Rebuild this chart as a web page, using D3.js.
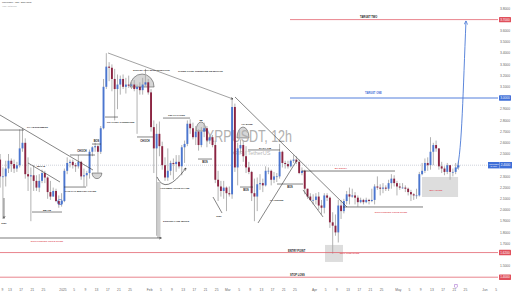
<!DOCTYPE html>
<html><head><meta charset="utf-8">
<script src="https://cdn.jsdelivr.net/npm/d3@7"></script>
<style>html,body{margin:0;padding:0;background:#fff;overflow:hidden}svg{display:block;font-family:"Liberation Sans",Arial,sans-serif}</style>
</head><body><svg id="c" width="512" height="297"></svg>
<script>
// ---------- DATA (daily candles, XRPUSDT) ----------
const startDay = -23; // 2024-12-09 relative to 2025-01-01
const firstOpen = 2.45;
const closes = [
 2.30,2.30,2.37,2.44,2.41,2.37,2.40,2.55,2.60,2.32,2.30,2.31,2.26,2.20,2.26,2.33,2.29,2.16,2.12,2.17,2.08,2.05,2.08,
 2.35,2.42,2.43,2.40,2.39,2.43,2.30,2.31,2.33,2.52,2.56,2.57,2.52,2.73,3.10,3.28,3.27,3.17,3.08,3.12,3.17,3.10,3.12,3.11,3.12,3.08,3.10,3.07,3.12,3.14,3.05,
 2.74,2.55,2.68,2.57,2.40,2.29,2.35,2.42,2.41,2.43,2.39,2.56,2.59,2.77,2.73,2.65,2.70,2.58,2.70,2.73,2.62,2.65,2.58,2.27,2.21,2.17,2.20,2.15,
 2.14,2.92,2.38,2.55,2.58,2.48,2.38,2.34,2.15,2.12,2.23,2.24,2.22,2.35,2.35,2.27,2.30,2.30,2.52,2.42,2.41,2.39,2.44,2.45,2.43,2.33,2.35,2.19,2.12,2.09,2.09,
 2.12,2.04,2.02,2.13,2.11,1.89,1.86,1.80,2.04,1.99,2.08,2.14,2.12,2.13,2.11,2.07,2.09,2.07,2.09,2.08,2.09,2.21,2.20,2.19,2.20,2.19,2.24,2.28,2.24,2.21,
 2.20,2.20,2.19,2.16,2.14,2.13,2.13,2.32,2.35,2.42,2.40,2.52,2.58,2.55,2.39,2.37,2.34,2.40,2.34,2.34,2.38,2.40];
const highs = [
 2.50,2.38,2.44,2.50,2.46,2.45,2.43,2.72,2.73,2.64,2.47,2.38,2.40,2.31,2.32,2.36,2.35,2.30,2.26,2.20,2.19,2.13,2.15,
 2.37,2.47,2.45,2.45,2.42,2.49,2.44,2.37,2.35,2.54,2.57,2.60,2.58,2.75,3.17,3.40,3.32,3.30,3.26,3.21,3.20,3.21,3.18,3.20,3.16,3.16,3.12,3.14,3.18,3.26,3.17,
 3.08,2.80,2.77,2.79,2.61,2.47,2.55,2.44,2.46,2.49,2.49,2.58,2.62,2.80,2.81,2.78,2.75,2.72,2.74,2.78,2.75,2.67,2.67,2.62,2.35,2.26,2.26,2.21,
 2.21,3.00,2.95,2.60,2.63,2.62,2.57,2.43,2.35,2.28,2.29,2.32,2.28,2.39,2.38,2.36,2.34,2.33,2.59,2.53,2.44,2.44,2.45,2.49,2.48,2.45,2.38,2.36,2.19,2.15,2.14,
 2.15,2.16,2.09,2.15,2.15,2.12,1.98,1.96,2.09,2.09,2.10,2.17,2.20,2.19,2.16,2.13,2.11,2.10,2.11,2.10,2.19,2.23,2.30,2.23,2.24,2.22,2.27,2.32,2.31,2.26,
 2.24,2.24,2.22,2.20,2.18,2.15,2.19,2.34,2.42,2.46,2.47,2.65,2.60,2.62,2.55,2.43,2.39,2.42,2.40,2.37,2.42,2.44];
const lows = [
 2.20,1.92,2.21,2.33,2.34,2.33,2.34,2.38,2.52,2.28,2.17,1.90,2.17,2.17,2.16,2.24,2.24,2.10,2.09,2.12,2.07,2.02,2.03,
 2.07,2.32,2.38,2.37,2.34,2.37,2.27,2.21,2.21,2.28,2.48,2.52,2.33,2.50,2.72,3.08,3.15,3.06,2.80,2.90,3.03,3.08,3.04,3.09,3.08,3.06,2.68,3.03,3.03,3.10,3.03,
 2.70,2.33,1.77,2.48,2.36,2.26,2.26,2.31,2.27,2.34,2.37,2.31,2.42,2.57,2.68,2.63,2.58,2.53,2.56,2.65,2.56,2.59,2.56,2.24,2.08,2.12,2.10,1.99,
 2.12,2.10,2.34,2.22,2.51,2.43,2.33,2.32,2.08,1.90,1.99,2.18,2.16,2.21,2.32,2.22,2.24,2.25,2.28,2.38,2.37,2.37,2.38,2.42,2.41,2.32,2.31,2.14,2.10,2.08,2.05,
 2.05,2.00,1.96,1.97,2.08,1.84,1.61,1.77,1.71,1.92,1.97,2.05,2.05,2.11,2.05,2.03,2.06,2.05,2.06,2.05,2.07,2.05,2.18,2.13,2.15,2.17,2.17,2.19,2.21,2.13,
 2.18,2.19,2.16,2.13,2.08,2.09,2.10,2.12,2.31,2.33,2.35,2.36,2.40,2.52,2.36,2.33,2.31,2.32,2.27,2.30,2.32,2.36];

const priceTicks = [3.8,3.7,3.6,3.5,3.4,3.3,3.2,3.1,3.0,2.9,2.8,2.7,2.6,2.5,2.4,2.3,2.2,2.1,2.0,1.9,1.8,1.7,1.6,1.5,1.4];
const timeTickDates = ["2024-12-09","2024-12-13","2024-12-17","2024-12-21","2024-12-25",
 "2025-01-01","2025-01-05","2025-01-09","2025-01-13","2025-01-17","2025-01-21","2025-01-25",
 "2025-02-01","2025-02-05","2025-02-09","2025-02-13","2025-02-17","2025-02-21","2025-02-25",
 "2025-03-01","2025-03-05","2025-03-09","2025-03-13","2025-03-17","2025-03-21","2025-03-25",
 "2025-04-01","2025-04-05","2025-04-09","2025-04-13","2025-04-17","2025-04-21","2025-04-25",
 "2025-05-01","2025-05-05","2025-05-09","2025-05-13","2025-05-17","2025-05-21","2025-05-25",
 "2025-06-01","2025-06-05"];
const timeTickLabels = ["9","13","17","21","25",
 "2025","5","9","13","17","21","25",
 "Feb","5","9","13","17","21","25",
 "Mar","5","9","13","17","21","25",
 "Apr","5","9","13","17","21","25",
 "May","5","9","13","17","21","25",
 "Jun","5"];
const levelNames = ["TARGET TWO","TARGET ONE","ENTRY POINT","STOP LOSS"];
const levelValues = [3.70, 3.00, 1.62, 1.40];
const levelColors = ["#e0505c","#3f6fd8","#e0505c","#e0505c"];

// ---------- SCALES ----------
const svg = d3.select("#c");
const plotR = 498, plotB = 283;
const x = d3.scaleUtc().domain([new Date(Date.UTC(2025,0,1)), new Date(Date.UTC(2025,5,1))]).range([63,485]);
const y = d3.scaleLinear().domain([3.0,1.4]).range([98,277.2]);
const D = d => new Date(Date.UTC(2025,0,1) + d*864e5);
const X = d => x(D(d));

svg.append("rect").attr("width",512).attr("height",297).attr("fill","#fff");
const defs = svg.append("defs");
defs.append("clipPath").attr("id","pc").append("rect").attr("width",plotR).attr("height",plotB);
function mk(id,color){
  defs.append("marker").attr("id",id).attr("viewBox","0 0 10 10").attr("refX",9).attr("refY",5)
   .attr("markerWidth",5).attr("markerHeight",5).attr("orient","auto-start-reverse")
   .append("path").attr("d","M1,1 L9,5 L1,9").attr("fill","none").attr("stroke",color).attr("stroke-width",1.6);
}
mk("ab","#222"); mk("abl","#4a78d6");

const plot = svg.append("g").attr("clip-path","url(#pc)");

function seg(d1,v1,d2,v2,color="#2a2a2a",w=0.6,marker=null){
  const l = plot.append("line").attr("x1",X(d1)).attr("y1",y(v1)).attr("x2",X(d2)).attr("y2",y(v2))
    .attr("stroke",color).attr("stroke-width",w);
  if(marker) l.attr("marker-end",`url(#${marker})`);
  return l;
}
function lbl(d,v,t,anchor="middle",color="#222",size=2.7,weight=700){
  return plot.append("text").attr("x",X(d)).attr("y",y(v)).attr("text-anchor",anchor)
    .attr("font-size",size).attr("font-weight",weight).attr("fill",color).text(t);
}
function box(d1,d2,v1,v2,fill="#d6d6d6",op=0.85){
  plot.append("rect").attr("x",X(d1)).attr("width",X(d2)-X(d1)).attr("y",y(v1)).attr("height",y(v2)-y(v1))
    .attr("fill",fill).attr("opacity",op);
}
function dome(d1,d2,vBase,vTop,up=true){
  const xl=X(d1), xr=X(d2), yb=y(vBase), rx=(xr-xl)/2, ry=Math.abs(y(vTop)-yb);
  plot.append("path").attr("d",`M${xl},${yb} A${rx},${ry} 0 0 ${up?1:0} ${xr},${yb} Z`)
    .attr("fill","#cfcfcf").attr("fill-opacity",0.85).attr("stroke","#3a3a3a").attr("stroke-width",0.5);
}

// background zones
box(33.64,34.89,2.25,1.75,"#c9c9c9",0.9);
box(93.75,100.19,1.688,1.536,"#d9d9d9",0.9);
box(128.46,141.35,2.295,2.116,"#d9d9d9",0.9);

// current price line
const lastPrice = closes[closes.length-1];
plot.append("line").attr("x1",0).attr("x2",plotR).attr("y1",y(lastPrice)).attr("y2",y(lastPrice))
  .attr("stroke","#9aa3b5").attr("stroke-width",0.5).attr("stroke-dasharray","1,1");

dome(24.0,32.6,3.098,3.214,true);
dome(47.59,51.17,2.705,2.786,true);
dome(62.26,66.56,2.643,2.741,true);
dome(10.4,13.9,2.33,2.28,false);

// watermark
plot.append("text").attr("x",206).attr("y",141.5).attr("font-size",17).attr("fill","#b0b0b0")
  .attr("textLength",86).attr("lengthAdjust","spacingAndGlyphs").text("XRPUSDT, 12h");
plot.append("text").attr("x",251).attr("y",155).attr("text-anchor","middle").attr("font-size",5.5).attr("fill","#b8b8b8")
  .text("XRP / TetherUS");

// candles
const candles = closes.map((c,i)=>({d:startDay+i+0.5,o:i?closes[i-1]:firstOpen,h:highs[i],l:lows[i],c}));
const cg = plot.append("g");
cg.selectAll("line").data(candles).join("line")
  .attr("x1",d=>X(d.d)).attr("x2",d=>X(d.d)).attr("y1",d=>y(d.h)).attr("y2",d=>y(d.l))
  .attr("stroke","#a9a9a9").attr("stroke-width",0.9);
cg.selectAll("rect").data(candles).join("rect")
  .attr("x",d=>X(d.d)-0.95).attr("width",1.9)
  .attr("y",d=>y(Math.max(d.o,d.c))).attr("height",d=>Math.max(0.7,Math.abs(y(d.o)-y(d.c))))
  .attr("fill",d=>d.c>=d.o?"#4b76d0":"#8c2442");

// level lines
levelValues.forEach((v,i)=>{
  const from = i<2 ? 81.23 : -30;
  plot.append("line").attr("x1",X(from)).attr("x2",plotR).attr("y1",y(v)).attr("y2",y(v))
    .attr("stroke",levelColors[i]).attr("stroke-width",i===1?0.9:0.7);
});
lbl(106.28,3.71,levelNames[0],"start","#222",2.6);
lbl(108.06,3.04,levelNames[1],"start","#3f6fd8",2.6);
lbl(80.51,1.629,levelNames[2],"start","#222",2.6);
lbl(81.23,1.411,levelNames[3],"start","#222",2.6);
lbl(102.5,1.603,"SELL SIDE ZONE","middle","#e0505c",2.4);

// annotations
seg(16.10,3.402,60.83,2.991,"#555",0.55,"ab");
lbl(41.15,3.236,"THREE POINT TRENDLINE REJECTION","start","#222",2.4);
seg(61.55,3.009,101.62,2.027,"#333",0.6);
lbl(25.05,3.241,"STRONG HIGH WICK REJECTION","start","#222",2.3);
seg(-22.54,2.848,10.73,2.357,"#333",0.6);
seg(-22.54,2.714,-13.96,2.714,"#333",0.6);
lbl(-12.88,2.732,"LH ADJUSTMENT","start","#222",2.5);
seg(-12.52,2.420,-1.07,2.250,"#333",0.6);
lbl(-7.87,2.384,"MTC B","middle","#222",2.5);
seg(2.50,2.491,11.45,2.491,"#333",0.6);
lbl(6.80,2.514,"CHOCH","middle","#222",2.6);
seg(10.38,2.589,13.60,2.589,"#333",0.6);
lbl(11.99,2.603,"BOS","middle","#222",2.6);
seg(0.36,2.205,8.23,2.205,"#333",0.6);
lbl(0.72,2.165,"FAIR GAP BULLISH FILLED","start","#222",2.4);
seg(-11.09,1.982,-0.36,1.982,"#333",0.6);
lbl(-5.73,1.991,"BB-OB","middle","#222",2.4);
plot.append("circle").attr("cx",X(-1.07)).attr("cy",y(2.071)).attr("r",2.6).attr("fill","none").attr("stroke","#4b76d0").attr("stroke-width",0.7);
seg(-21.11,2.107,-21.11,1.925,"#333",0.6,"ab");
lbl(-21.11,1.875,"SWL","middle","#222",2.4);
seg(-22.54,1.750,35.2,1.750,"#222",0.6,"ab");
lbl(-5.73,1.714,"DISCOUNTED PRICE ZONE","middle","#e0505c",2.5);
lbl(35.78,1.893,"STRONG LOW WICKS","start","#222",2.5);
plot.append("path").attr("d",`M${X(33.64)},${y(2.295)} Q${X(36.68)},${y(2.125)} ${X(44.01)},${y(2.375)}`)
  .attr("fill","none").attr("stroke","#222").attr("stroke-width",0.6).attr("marker-end","url(#ab)");
lbl(34.71,2.188,"ACCUMULATION PHASE","start","#222",2.5);
seg(15.03,2.830,19.68,2.830,"#333",0.6);
lbl(15.74,2.781,"PIP POINT CONNECTED","start","#222",2.4);
seg(26.48,2.652,32.20,2.652,"#333",0.6);
lbl(29.34,2.603,"CHOCH","middle","#222",2.6);
seg(35.78,2.821,45.45,2.821,"#333",0.6);
lbl(40.61,2.835,"1ST LH POINT","middle","#222",2.5);
lbl(49.38,2.799,"2B","middle","#222",2.5);
seg(48.31,2.455,53.32,2.455,"#333",0.6);
lbl(50.81,2.420,"BOS","middle","#222",2.6);
lbl(65.84,2.759,"HH ZONE","middle","#222",2.5);
seg(66.20,2.536,77.65,2.536,"#333",0.6);
lbl(72.28,2.549,"DAILY FIB","middle","#222",2.5);
seg(63.34,2.205,67.99,2.205,"#333",0.6);
lbl(65.48,2.170,"BOS","middle","#222",2.6);
seg(76.58,2.232,85.88,2.232,"#333",0.6);
lbl(81.23,2.192,"BOS","middle","#222",2.6);
seg(69.78,1.884,83.73,2.446,"#333",0.6);
lbl(74.07,2.076,"LL HUNTED","start","#222",2.4);
seg(53.67,2.116,56.90,1.973,"#333",0.6);
lbl(55.82,1.938,"SWL","middle","#222",2.4);
seg(85.88,2.179,93.04,1.938,"#333",0.6);
seg(85.52,2.348,118.80,2.348,"#222",0.6);
lbl(99.48,2.362,"BT ENTRY","middle","#e0505c",2.5);
seg(100.19,2.027,128.82,2.027,"#222",0.6);
lbl(117.37,1.969,"DISCOUNTED PRICE ZONE","middle","#e0505c",2.5);
lbl(133.47,2.174,"BUY ZONE","middle","#e0505c",2.5);

// projection
plot.append("path")
  .attr("d",`M${X(140.98)},${y(2.366)} C${X(142.78)},${y(2.536)} ${X(143.13)},${y(3.071)} ${X(144.2)},${y(3.688)}`)
  .attr("fill","none").attr("stroke","#4a78d6").attr("stroke-width",0.9).attr("marker-end","url(#abl)");

// top-left legend
svg.append("text").attr("x",2).attr("y",2.8).attr("font-size",2.3).attr("font-weight",700).attr("fill","#666").text("XRPUSDT · 12h · BINANCE");
svg.append("text").attr("x",2).attr("y",6.6).attr("font-size",2.1).attr("fill","#999").text("XRP / TetherUS");

// price axis (ticks hidden where a coloured label covers them, as in the reference)
const lastPriceY = y(lastPrice);
const covered = levelValues.map(v=>y(v)).concat([lastPriceY]);
const ax = svg.append("g");
ax.selectAll("text").data(priceTicks.filter(t=>covered.every(cy=>Math.abs(y(t)-cy)>5)))
  .join("text")
  .attr("x",505).attr("y",d=>y(d)).attr("dy","0.35em").attr("text-anchor","middle")
  .attr("font-size",3.3).attr("fill","#666").text(d=>d3.format(".4f")(d));
levelValues.forEach((v,i)=>{
  ax.append("rect").attr("x",499).attr("y",y(v)-2.7).attr("width",12).attr("height",5.4).attr("fill",levelColors[i]).attr("rx",0.6);
  ax.append("text").attr("x",505).attr("y",y(v)).attr("dy","0.35em").attr("text-anchor","middle")
    .attr("font-size",3.1).attr("fill","#fff").text(d3.format(".4f")(v));
});
ax.append("rect").attr("x",488).attr("y",lastPriceY-3.2).attr("width",24).attr("height",6.4).attr("fill","#3f6fd8");
ax.append("line").attr("x1",499.5).attr("x2",499.5).attr("y1",lastPriceY-3.2).attr("y2",lastPriceY+3.2).attr("stroke","#fff").attr("stroke-width",0.3);
ax.append("text").attr("x",493.7).attr("y",lastPriceY-0.6).attr("text-anchor","middle").attr("font-size",2.1).attr("fill","#fff").text("XRPUSDT");
ax.append("text").attr("x",493.7).attr("y",lastPriceY+2.2).attr("text-anchor","middle").attr("font-size",2.1).attr("fill","#fff").text(d3.format(".4f")(lastPrice));
ax.append("text").attr("x",505.5).attr("y",lastPriceY).attr("dy","0.35em").attr("text-anchor","middle").attr("font-size",3.1).attr("fill","#fff").text(d3.format(".4f")(lastPrice));

// time axis
const tx = svg.append("g");
tx.selectAll("text").data(timeTickDates).join("text")
  .attr("x",d=>Math.max(2.5,x(new Date(d+"T00:00:00Z")))).attr("y",291).attr("text-anchor","middle")
  .attr("font-size",3.3).attr("fill","#666").text((d,i)=>timeTickLabels[i]);
const ex = X(140.6);
tx.append("path").attr("d",`M${ex-1.4},284.5 h2.8 v2.6 l-1.4,1.2 l-1.4,-1.2 Z`).attr("fill","none").attr("stroke","#9b59c9").attr("stroke-width",0.5);
</script></body></html>
